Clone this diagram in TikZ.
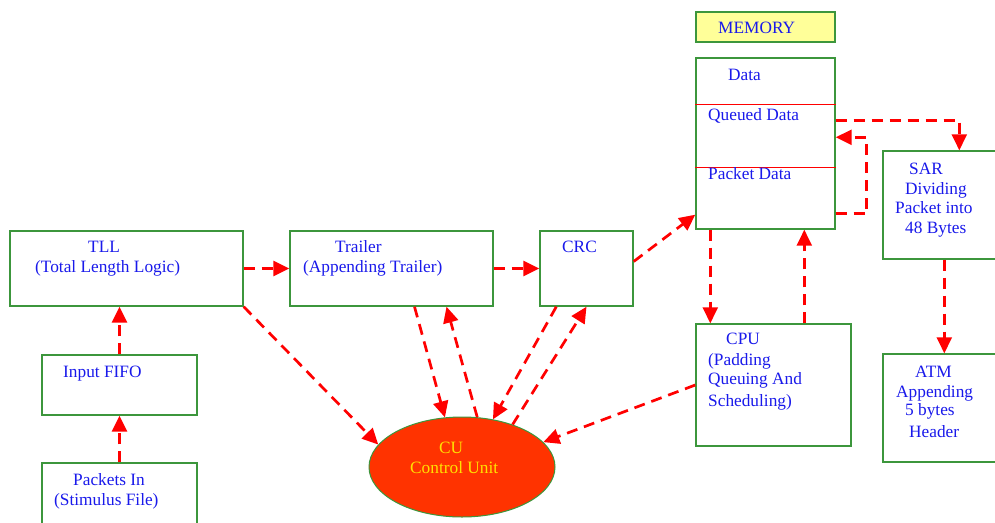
\documentclass[tikz,border=0pt]{standalone}
\usepackage{fontspec}
\setmainfont{Liberation Serif}
\usetikzlibrary{arrows.meta,calc,shapes.geometric}
\definecolor{boxgreen}{RGB}{60,150,60}
\definecolor{flowred}{RGB}{255,0,0}
\definecolor{labelblue}{RGB}{25,25,235}
\definecolor{cufill}{RGB}{255,51,0}
\definecolor{cutext}{RGB}{255,225,0}
\definecolor{titlefill}{RGB}{255,255,153}

\begin{document}
\begin{tikzpicture}[x=1pt,y=-1pt,
  block/.style={draw=boxgreen,line width=1.4pt,fill=white,rectangle,inner sep=0pt},
  txt/.style={anchor=base west,inner sep=0pt,text=labelblue,font=\fontsize{17.3}{20}\selectfont},
  cutxt/.style={txt,text=cutext},
  flow/.style={draw=flowred,line width=2.7pt,dash pattern=on 11pt off 7pt,
    -{Triangle[length=16pt,width=15pt]}},
  divider/.style={draw=flowred,line width=0.8pt}]

\useasboundingbox (0,0) rectangle (995,522);
\fill[white] (0,0) rectangle (995,522);
\clip (0,0) rectangle (995,522);

% ---- blocks ----
\node[block,fill=titlefill,minimum width=139pt,minimum height=30pt] (memtitle) at (765.5,27) {};
\node[block,minimum width=139pt,minimum height=171pt] (memory) at (765.5,143.5) {};
\draw[divider] ($(memory.north west)+(0,47)$) -- ($(memory.north east)+(0,47)$);
\draw[divider] ($(memory.north west)+(0,110)$) -- ($(memory.north east)+(0,110)$);
\node[block,minimum width=147pt,minimum height=108pt] (sar) at (956.5,205) {};
\node[block,minimum width=147pt,minimum height=108pt] (atm) at (956.5,408) {};
\node[block,minimum width=155pt,minimum height=122pt] (cpu) at (773.5,385) {};
\node[block,minimum width=233pt,minimum height=75pt] (tll) at (126.5,268.5) {};
\node[block,minimum width=155pt,minimum height=60pt] (fifo) at (119.5,385) {};
\node[block,minimum width=155pt,minimum height=97pt] (pktin) at (119.5,511.5) {};
\node[block,minimum width=203pt,minimum height=75pt] (trailer) at (391.5,268.5) {};
\node[block,minimum width=93pt,minimum height=75pt] (crc) at (586.5,268.5) {};
\node[draw=boxgreen,line width=1pt,fill=cufill,ellipse,inner sep=0pt,
      minimum width=186pt,minimum height=100pt] (cu) at (462,467) {};

% ---- labels ----
\node[txt] (tMem) at (718,33) {MEMORY};
\node[txt] (tData) at (728,80) {Data};
\node[txt] (tQueued) at (708,120) {Queued Data};
\node[txt] (tPacket) at (708,179) {Packet Data};
\node[txt] (tSar1) at (909,174) {SAR};
\node[txt] (tSar2) at (905,194) {Dividing};
\node[txt] (tSar3) at (895,213) {Packet into};
\node[txt] (tSar4) at (905,233) {48 Bytes};
\node[txt] (tAtm1) at (915,377) {ATM};
\node[txt] (tAtm2) at (896,397) {Appending};
\node[txt] (tAtm3) at (905,415) {5 bytes};
\node[txt] (tAtm4) at (909,437) {Header};
\node[txt] (tCpu1) at (726,344) {CPU};
\node[txt] (tCpu2) at (708,365) {(Padding};
\node[txt] (tCpu3) at (708,384) {Queuing And};
\node[txt] (tCpu4) at (708,406) {Scheduling)};
\node[txt] (tTll1) at (88,252) {TLL};
\node[txt] (tTll2) at (35,272) {(Total Length Logic)};
\node[txt] (tFifo) at (63,377) {Input FIFO};
\node[txt] (tPk1) at (73,485) {Packets In};
\node[txt] (tPk2) at (54,505) {(Stimulus File)};
\node[txt] (tTr1) at (335,252) {Trailer};
\node[txt] (tTr2) at (303,272) {(Appending Trailer)};
\node[txt] (tCrc) at (562,252) {CRC};
\node[cutxt] (tCu1) at (439,453) {CU};
\node[cutxt] (tCu2) at (410,473) {Control Unit};

% ---- data flow ----
\draw[flow] (pktin.north) -- (fifo.south);
\draw[flow] (fifo.north) -- (fifo.north |- tll.south);
\draw[flow] (tll.east) -- (trailer.west);
\draw[flow] (trailer.east) -- (crc.west);
\draw[flow] ($(crc.east)+(0,-7)$) -- ($(memory.south west)+(0,-15)$);
\draw[flow] (memory.south west) ++(15,0) coordinate (mToC) -- (mToC |- cpu.north);
\draw[flow] (cpu.north west) ++(109,0) coordinate (cToM) -- (cToM |- memory.south);
\draw[flow] ($(memory.north east)+(0,63)$) -| ($(sar.north west)+(77,0)$);
\draw[flow] ($(memory.south east)+(0,-16)$) -- ++(31,0) |- ($(memory.north east)+(0,80)$);
\draw[flow] ($(sar.south west)+(62,0)$) -- ($(atm.north west)+(62,0)$);

% ---- control unit links ----
\draw[flow] (tll.south east) -- (cu.165);
\draw[flow] ($(trailer.south)+(23,0)$) -- (cu.109);
\draw[flow] (cu.73) -- ($(trailer.south)+(55,0)$);
\draw[flow] ($(crc.south west)+(17,0)$) -- (cu.57);
\draw[flow] (cu.40) -- (crc.south);
\draw[flow] (cpu.west) -- (cu.17);

\end{tikzpicture}
\end{document}
